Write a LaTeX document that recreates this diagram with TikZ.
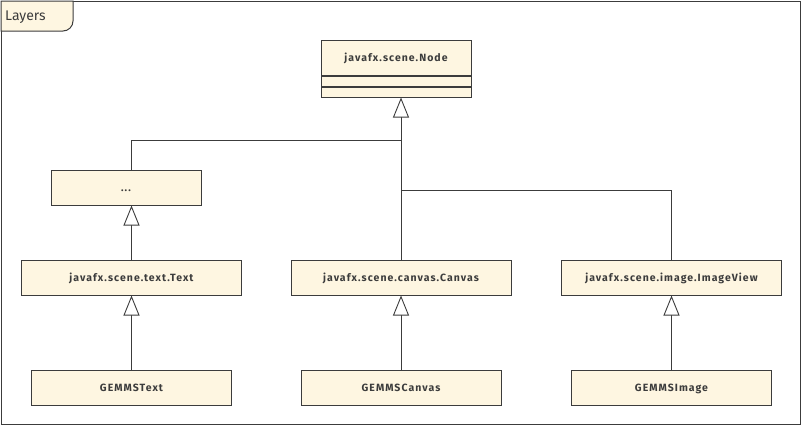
\documentclass[tikz,border=0pt]{standalone}
\usepackage{fontspec}
\setmainfont{Fira Sans}
\newfontfamily\classfont[LetterSpace=10]{Fira Sans}
\usetikzlibrary{positioning}
\usetikzlibrary{arrows.meta}

\definecolor{umlfill}{HTML}{FEF6E1}
\definecolor{umlline}{HTML}{3C3C3C}

\begin{document}
\begin{tikzpicture}[x=1pt,y=1pt,yscale=-1,xscale=1,
  classbox/.style={draw=umlline, line width=1, fill=umlfill, minimum width=220, minimum height=35, inner sep=0, text height=8, text depth=0, font=\classfont\bfseries\fontsize{10.5}{12}\selectfont, text=umlline},
  compbox/.style={draw=umlline, line width=1, fill=umlfill, minimum width=149, minimum height=10, inner sep=0},
  inherit/.style={draw=umlline, line width=0.9, -{Triangle[open, length=20, width=16, fill=white]}},
  link/.style={draw=umlline, line width=0.9}]
\useasboundingbox (0,0) rectangle (802,426);

% Frame
\draw [umlline, line width=1] (1,1) rectangle (800,424);
\draw [umlline, line width=1, fill=umlfill] (1,1) -- (73,1) -- (73,21) arc [start angle=0, end angle=90, radius=10] -- (1,31) -- cycle;
\node (frametitle) [anchor=west, text=umlline, font=\fontsize{14}{16}\selectfont, inner sep=0] at (5,17) {Layers};

% Class nodes
\node (jfxnode) [classbox, minimum width=150] at (396,57.5) {javafx.scene.Node};
\node (jfxattr) [compbox, minimum width=150, below=0 of jfxnode] {};
\node (jfxops) [compbox, minimum width=150, below=0 of jfxattr] {};

\node (dots) [classbox, minimum width=150] at (126,187.5) {...};

\node (jfxtext) [classbox] at (131.5,277.5) {javafx.scene.text.Text};
\node (jfxcanvas) [classbox] at (401,277.5) {javafx.scene.canvas.Canvas};
\node (jfximage) [classbox] at (671.5,277.5) {javafx.scene.image.ImageView};

\node (gemmstext) [classbox, minimum width=200] at (131.5,387.5) {GEMMSText};
\node (gemmscanvas) [classbox, minimum width=200] at (401,387.5) {GEMMSCanvas};
\node (gemmsimage) [classbox, minimum width=200] at (671.5,387.5) {GEMMSImage};

% Connections
\coordinate (splitleft) at (401,140);
\coordinate (splitright) at (401,190);

\draw [link] (jfxtext.north |- dots.north) |- (splitleft);
\draw [link] (jfximage.north) |- (splitright);
\draw [inherit] (jfxcanvas.north) -- (jfxcanvas.north |- jfxops.south);

\draw [inherit] (jfxtext.north) -- (jfxtext.north |- dots.south);

\draw [inherit] (gemmstext.north) -- (jfxtext.south);
\draw [inherit] (gemmscanvas.north) -- (jfxcanvas.south);
\draw [inherit] (gemmsimage.north) -- (jfximage.south);

\end{tikzpicture}
\end{document}
